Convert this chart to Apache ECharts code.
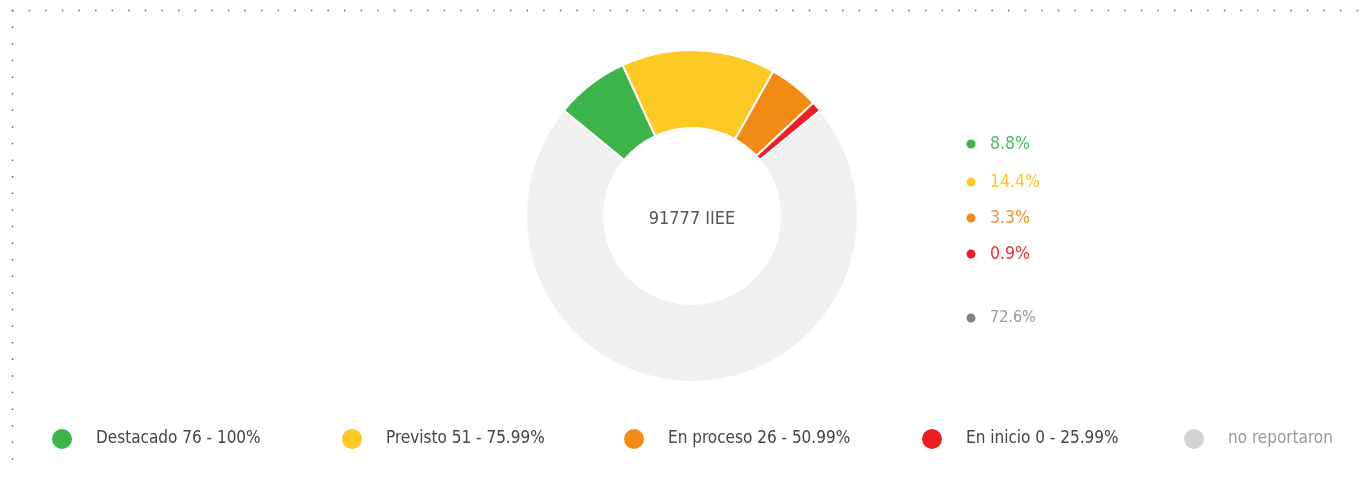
<!DOCTYPE html>
<html>
<head>
<meta charset="utf-8">
<script src="https://cdn.jsdelivr.net/npm/echarts@6/dist/echarts.min.js"></script>
<style>
html,body{margin:0;padding:0;background:#fff;}
#chart{width:1367px;height:485px;}
</style>
</head>
<body>
<div id="chart"></div>
<script>
const categories = ['Destacado 76 - 100%', 'Previsto 51 - 75.99%', 'En proceso 26 - 50.99%', 'En inicio 0 - 25.99%', 'no reportaron'];
// slice sizes as drawn in the picture (degrees measured, converted to %)
const sliceValues = [7.2, 15.0, 4.9, 1.0, 71.9];
const percentLabels = ['8.8%', '14.4%', '3.3%', '0.9%', '72.6%'];
const totalLabel = '91777 IIEE';

const sliceColors = ['#3bb54a', '#fec925', '#f18b13', '#ee1c25', '#f0f0f0'];
const bottomIconColors = ['#3bb54a', '#fec925', '#f18b13', '#ee1c25', '#d3d3d3'];
const bottomTextColors = ['#444', '#444', '#444', '#444', '#999'];
const rightIconColors = ['#3bb54a', '#fec925', '#f18b13', '#ee1c25', '#808080'];
const rightTextColors = ['#4fbd5c', '#fcc72c', '#f2922a', '#ee2d38', '#999999'];

const FONT = '"DejaVu Sans Condensed", "Liberation Sans Narrow", sans-serif';
const bottomLefts = [50, 340, 622, 920, 1182];
const rightCenters = [144, 182, 218, 254, 318];

const chart = echarts.init(document.getElementById('chart'));

const legends = [];
categories.forEach((name, i) => {
  legends.push({
    left: bottomLefts[i], top: 438 - 11, padding: 0,
    orient: 'horizontal', icon: 'circle', itemWidth: 22, itemHeight: 22,
    selectedMode: false,
    data: [{ name: name, itemStyle: { color: bottomIconColors[i] }, textStyle: { color: bottomTextColors[i] } }],
    textStyle: { fontFamily: FONT, fontSize: 17, padding: [0, 0, 0, 18] }
  });
  const small = i === 4;
  legends.push({
    left: 964.5, top: rightCenters[i] - 11, padding: 0, height: 22,
    orient: 'vertical', icon: 'circle', itemWidth: 11, itemHeight: 11,
    selectedMode: false,
    formatter: () => percentLabels[i],
    data: [{ name: name, itemStyle: { color: rightIconColors[i] }, textStyle: { color: rightTextColors[i] } }],
    textStyle: { fontFamily: FONT, fontSize: small ? 16 : 17.5, padding: [0, 0, 0, 8.5], lineHeight: 22 }
  });
});

chart.setOption({
  animation: false,
  legend: legends,
  graphic: [
    { type: 'line', shape: { x1: 12, y1: 10.5, x2: 1367, y2: 10.5 },
      style: { stroke: '#666', lineWidth: 1.5, lineDash: [1.5, 15.1] }, silent: true },
    { type: 'line', shape: { x1: 12.5, y1: 10, x2: 12.5, y2: 472 },
      style: { stroke: '#666', lineWidth: 1.5, lineDash: [1.5, 15.1] }, silent: true },
    { type: 'text', x: 692, y: 219,
      style: { text: totalLabel, textAlign: 'center', textVerticalAlign: 'middle',
        fill: '#555', font: '18px ' + FONT }, silent: true }
  ],
  series: [{
    type: 'pie',
    center: [692, 216],
    radius: [88, 166],
    startAngle: 140.6,
    clockwise: true,
    label: { show: false },
    labelLine: { show: false },
    emphasis: { disabled: true },
    itemStyle: { borderColor: '#fff', borderWidth: 2 },
    data: categories.map((name, i) => ({ name: name, value: sliceValues[i], itemStyle: { color: sliceColors[i] } }))
  }]
});
</script>
</body>
</html>
